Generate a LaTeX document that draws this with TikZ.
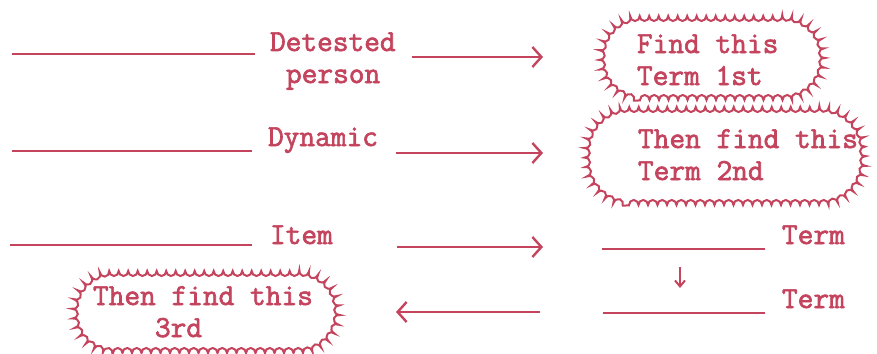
\documentclass[tikz,border=0pt]{standalone}
\usepackage{fontspec}
\usetikzlibrary{arrows.meta,decorations.pathmorphing}
\newfontfamily\tw[FakeBold=2.2]{Latin Modern Mono}
\definecolor{ink}{RGB}{196,68,94}
\newcommand\scallopbox[2]{%
  \draw[bubble] ([xshift=#2]#1.south west) -- ([xshift=-#2]#1.south east)
    arc[start angle=-90,end angle=0,radius=#2] -- ([yshift=-#2]#1.north east)
    arc[start angle=0,end angle=90,radius=#2] -- ([xshift=#2]#1.north west)
    arc[start angle=90,end angle=180,radius=#2] -- ([yshift=#2]#1.south west)
    arc[start angle=180,end angle=270,radius=#2] -- cycle;}
\begin{document}
\begin{tikzpicture}[x=1pt,y=1pt,
  every node/.style={inner sep=0pt,outer sep=0pt},
  lbl/.style={anchor=base west,text=ink,font=\tw\fontsize{30.5}{32}\selectfont},
  blank/.style={draw=ink,line width=2.8pt},
  arr/.style={draw=ink,line width=2.8pt,-{Straight Barb[length=9pt,width=20pt,line width=2.4pt]}},
  area/.style={rectangle},
  bubble/.style={draw=ink,line width=2pt,decorate,
    decoration={bumps,segment length=19pt,amplitude=5pt}}]
\useasboundingbox (0,0) rectangle (877,-353);
% clouds
\node[area,minimum width=224pt,minimum height=84pt] (c1) at (712,-58) {};
\scallopbox{c1}{40pt}
\node[area,minimum width=280pt,minimum height=98pt] (c2) at (725,-156) {};
\scallopbox{c2}{44pt}
\node[area,minimum width=266pt,minimum height=82pt] (c3) at (206,-312) {};
\scallopbox{c3}{40pt}
% row 1
\coordinate (l1a) at (12,-54); \coordinate (l1b) at (255,-54);
\draw[blank] (l1a) -- (l1b);
\node[lbl] (t1) at (270,-51) {Detested};
\node[lbl] (t1b) at (286,-83) {person};
\coordinate (a1a) at (412,-57); \coordinate (a1b) at (543,-57);
\draw[arr] (a1a) -- (a1b);
\node[lbl] (f1) at (637,-53) {Find this};
\node[lbl] (f1b) at (637,-85) {Term 1st};
% row 2
\coordinate (l2a) at (12,-151); \coordinate (l2b) at (252,-151);
\draw[blank] (l2a) -- (l2b);
\node[lbl] (t2) at (268,-146) {Dynamic};
\coordinate (a2a) at (396,-153); \coordinate (a2b) at (543,-153);
\draw[arr] (a2a) -- (a2b);
\node[lbl] (f2) at (638,-148) {Then find this};
\node[lbl] (f2b) at (638,-180) {Term 2nd};
% row 3
\coordinate (l3a) at (10,-245); \coordinate (l3b) at (252,-245);
\draw[blank] (l3a) -- (l3b);
\node[lbl] (t3) at (270,-244) {Item};
\coordinate (a3a) at (397,-247); \coordinate (a3b) at (543,-247);
\draw[arr] (a3a) -- (a3b);
\coordinate (r1a) at (602,-249); \coordinate (r1b) at (765,-249);
\draw[blank] (r1a) -- (r1b);
\node[lbl] (term1) at (782,-244) {Term};
\coordinate (d1) at (680,-267); \coordinate (d2) at (680,-288);
\draw[draw=ink,line width=2.2pt,-{Straight Barb[length=6pt,width=10pt,line width=2pt]}] (d1) -- (d2);
\coordinate (r2a) at (603,-313); \coordinate (r2b) at (765,-313);
\draw[blank] (r2a) -- (r2b);
\node[lbl] (term2) at (782,-308) {Term};
% row 4
\coordinate (a4a) at (540,-312); \coordinate (a4b) at (396,-312);
\draw[arr] (a4a) -- (a4b);
\node[lbl] (f3) at (93,-305) {Then find this};
\node[lbl] (f3b) at (155,-337) {3rd};
\end{tikzpicture}
\end{document}
